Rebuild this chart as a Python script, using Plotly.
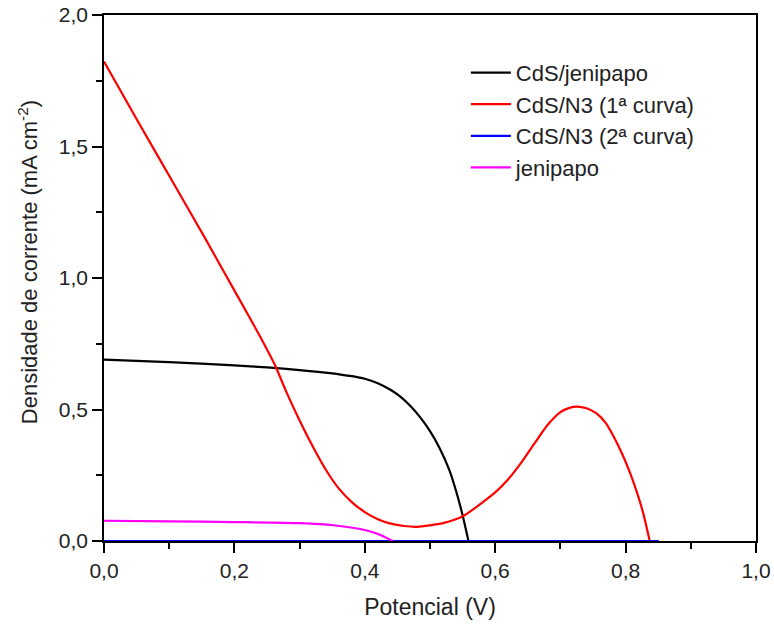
import plotly.graph_objects as go

# CdS/jenipapo
v_black = [0.0, 0.1, 0.2, 0.25, 0.3, 0.347, 0.40, 0.42, 0.44, 0.455, 0.47, 0.485, 0.50, 0.515, 0.53, 0.54, 0.55, 0.559]
j_black = [0.690, 0.680, 0.668, 0.660, 0.650, 0.638, 0.617, 0.600, 0.574, 0.548, 0.513, 0.470, 0.418, 0.352, 0.268,
           0.190, 0.098, 0.0]

# CdS/N3 (1a curva)
v_red = [0.0, 0.051, 0.102, 0.153, 0.204, 0.240, 0.262, 0.28, 0.30, 0.32, 0.34, 0.36, 0.38, 0.40, 0.42, 0.44, 0.46,
         0.48, 0.52, 0.551, 0.60, 0.62, 0.64, 0.66, 0.68, 0.70, 0.715, 0.725, 0.74, 0.755, 0.77, 0.781, 0.795, 0.807,
         0.818, 0.827, 0.837]
j_red = [1.823, 1.600, 1.380, 1.160, 0.935, 0.775, 0.670, 0.565, 0.458, 0.360, 0.272, 0.200, 0.148, 0.110, 0.083,
         0.066, 0.057, 0.054, 0.068, 0.095, 0.185, 0.235, 0.298, 0.370, 0.440, 0.490, 0.507, 0.511, 0.505, 0.486,
         0.447, 0.400, 0.330, 0.258, 0.180, 0.106, 0.0]

# CdS/N3 (2a curva)
v_blue = [0.0, 0.2, 0.4, 0.6, 0.8, 0.851]
j_blue = [0.0, 0.0, 0.0, 0.0, 0.0, 0.0]

# jenipapo
v_mag = [0.0, 0.1, 0.2, 0.3, 0.352, 0.403, 0.425, 0.443]
j_mag = [0.077, 0.075, 0.072, 0.068, 0.060, 0.040, 0.022, 0.0]

series = [
    ("CdS/jenipapo", v_black, j_black, "#000000"),
    ("CdS/N3 (1ª curva)", v_red, j_red, "#ff0000"),
    ("CdS/N3 (2ª curva)", v_blue, j_blue, "#0000ff"),
    ("jenipapo", v_mag, j_mag, "#ff00ff"),
]

fig = go.Figure()
for name, x, y, c in series:
    fig.add_trace(go.Scatter(x=x, y=y, mode="lines", name=name,
                             line=dict(color=c, width=2.2, shape="spline", smoothing=0.6)))

font = "Liberation Sans"
axis_common = dict(showgrid=False, zeroline=False, showline=True, linecolor="black", linewidth=1.6,
                   mirror=True, ticks="outside", ticklen=10, tickwidth=1.6, tickcolor="black",
                   tickfont=dict(family=font, size=21, color="#222"), tickformat=".1f", automargin=False,
                   ticklabeloverflow="allow")

fig.update_layout(
    width=774, height=624,
    margin=dict(l=104, r=18, t=15, b=83),
    paper_bgcolor="white", plot_bgcolor="white",
    separators=",.",
    font=dict(family=font, size=21, color="#222"),
    xaxis=dict(range=[0, 1.0], dtick=0.2,
               minor=dict(dtick=0.1, ticks="outside", ticklen=6, tickwidth=1.6, tickcolor="black"),
               title=dict(text="Potencial (V)", font=dict(family=font, size=23, color="#222"), standoff=18),
               **axis_common),
    yaxis=dict(range=[0, 2.0], dtick=0.5,
               minor=dict(dtick=0.25, ticks="outside", ticklen=6, tickwidth=1.6, tickcolor="black"),
               **axis_common),
    annotations=[dict(text="Densidade de corrente (mA cm<sup>-2</sup>)", textangle=-90,
                      xref="paper", yref="paper", x=-0.1166, y=0.530, xanchor="center", yanchor="middle",
                      showarrow=False, font=dict(family=font, size=22, color="#222"))],
    legend=dict(x=0.555, y=0.930, xanchor="left", yanchor="top", bgcolor="rgba(0,0,0,0)",
                font=dict(family=font, size=22, color="#222"), itemwidth=40),
)

fig.write_html("out.html", config={"displayModeBar": False},
               post_script="document.body.style.margin='0px';")
